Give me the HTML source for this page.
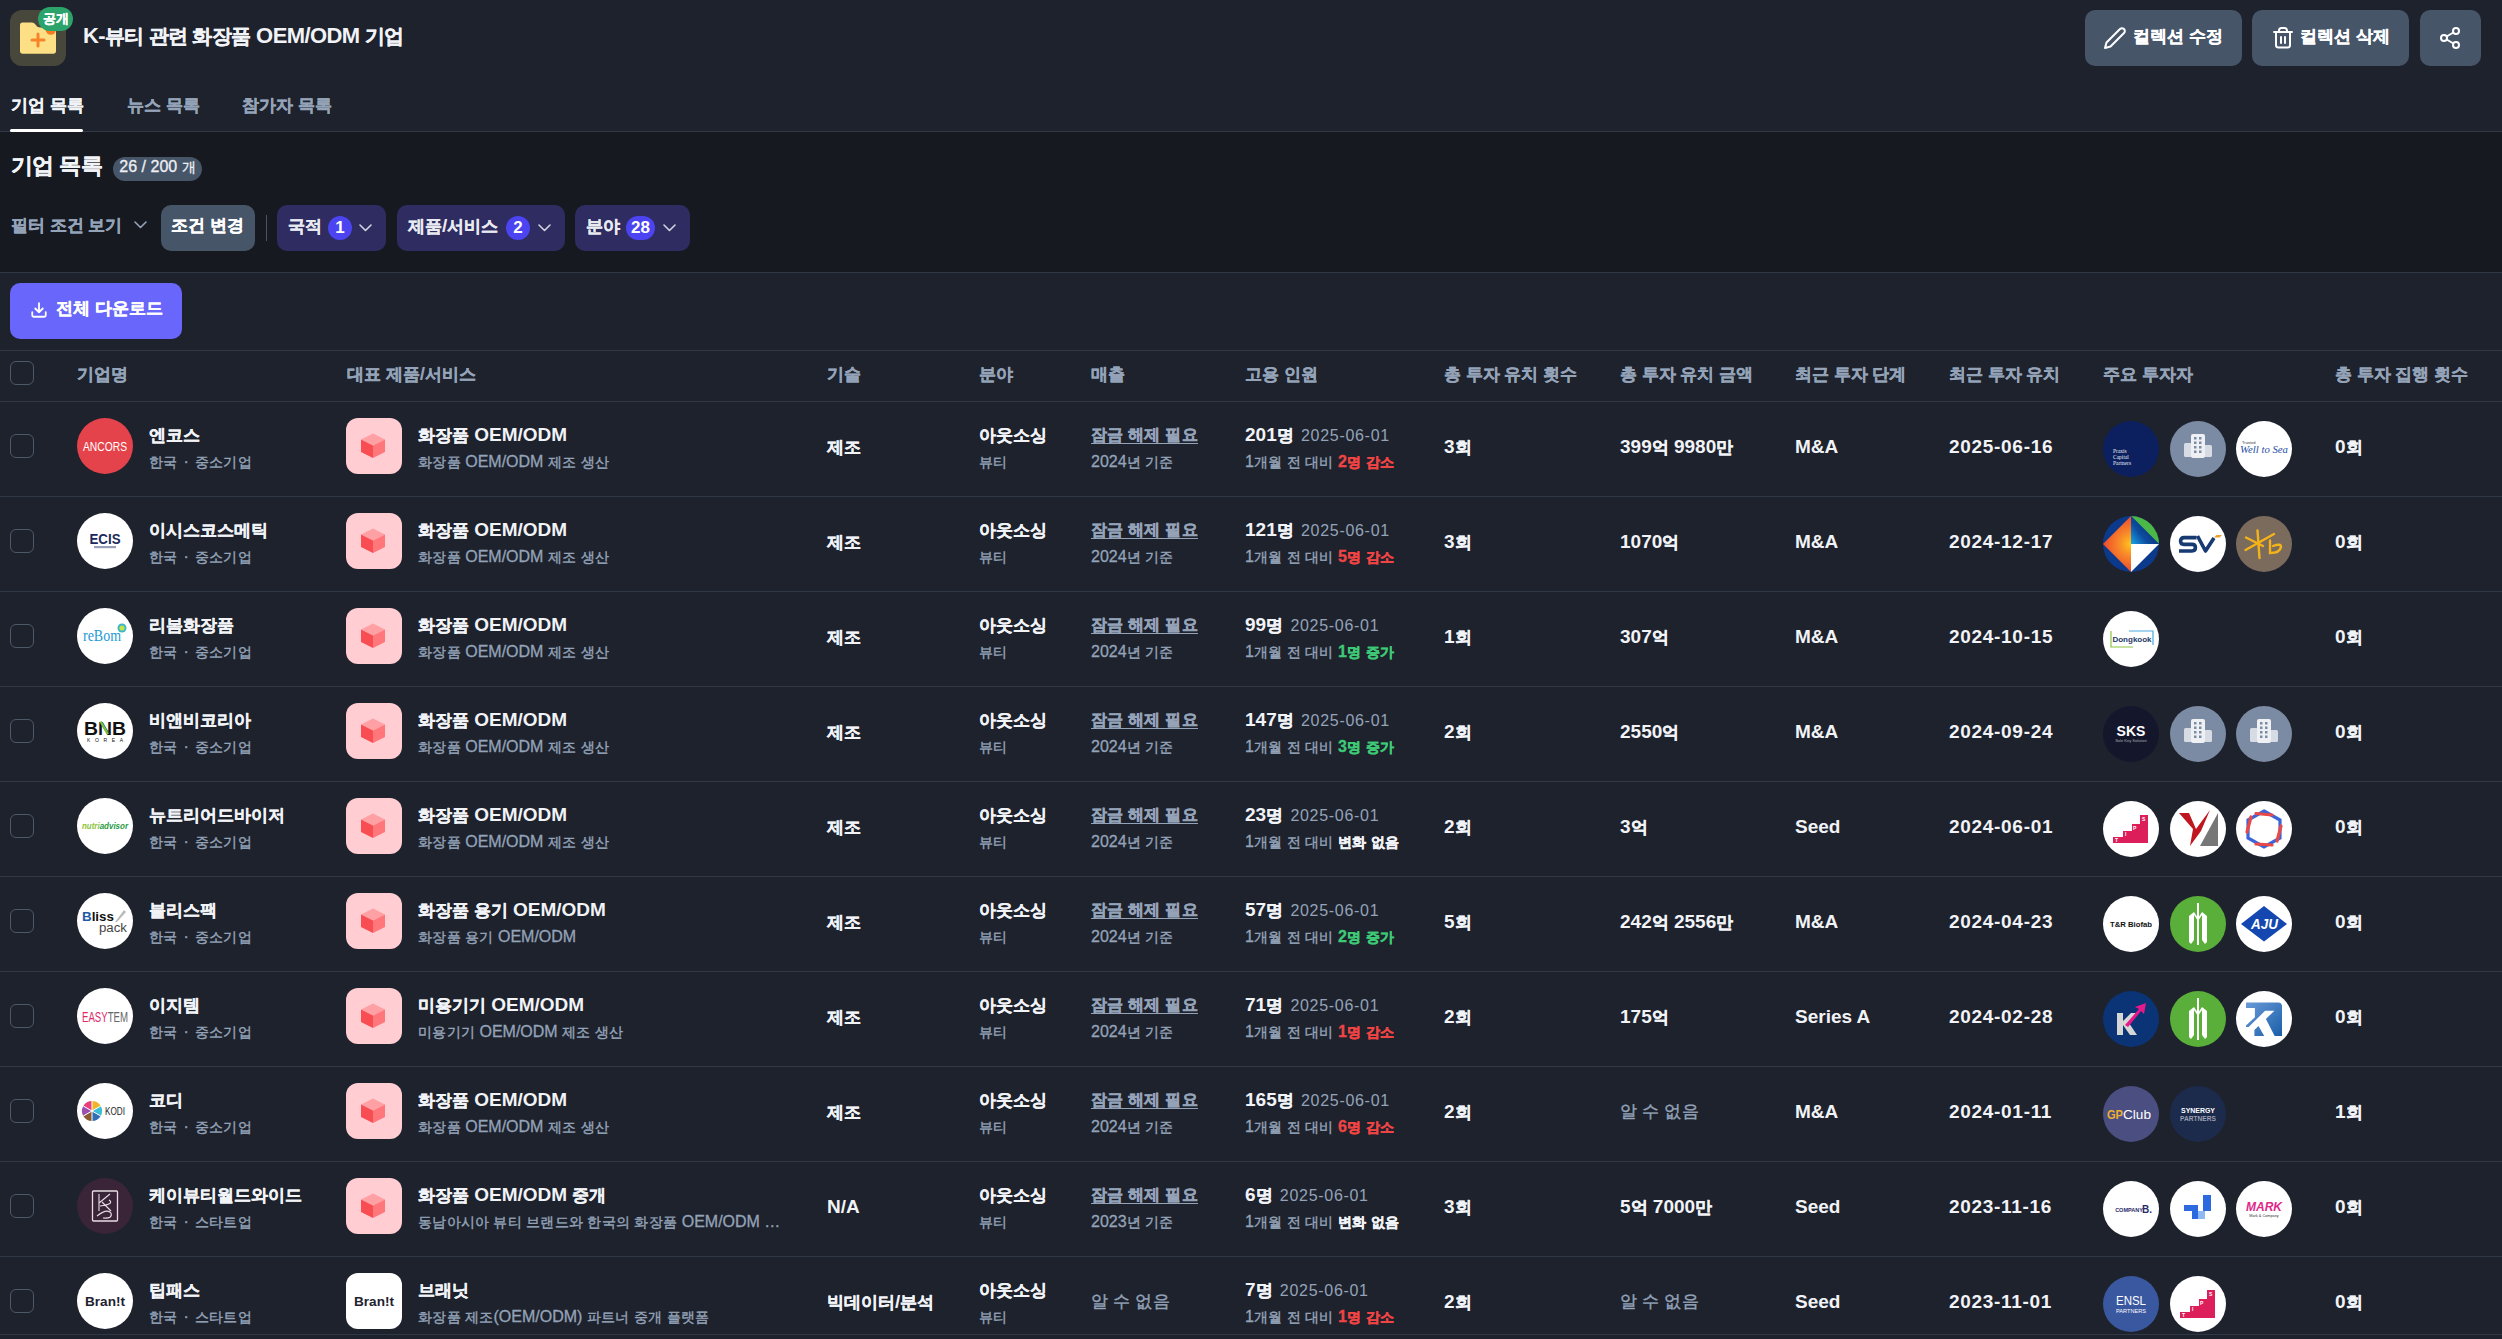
<!DOCTYPE html>
<html lang="ko"><head><meta charset="utf-8"><title>K-뷰티 관련 화장품 OEM/ODM 기업</title>
<style>
*{margin:0;padding:0;box-sizing:border-box}
html,body{width:2502px;height:1339px;overflow:hidden;background:#1e222d;font-family:"Liberation Sans",sans-serif;color:#f1f3f7}
.abs{position:absolute}
.k{font-size:0.9em}
.k{-webkit-text-stroke:0.3px currentColor}

.row{position:absolute;left:0;width:2502px;height:95px;border-bottom:1px solid #323946}
.row>div{position:absolute;white-space:nowrap}
.cb{width:24px;height:24px;border:1.6px solid #4d5869;border-radius:6px}
.logo{width:56px;height:56px}
.logo svg,.picon svg{display:block}
.t1{font-size:19px;font-weight:700;color:#f1f3f7;line-height:24px}
.t2{font-size:16px;color:#94a3b8;line-height:22px;-webkit-text-stroke:0.3px currentColor}
.t2 .k{font-size:0.9em;letter-spacing:0.25px;-webkit-text-stroke:0.4px currentColor}
.mid{top:33px}
.mid2{top:33px;font-size:19px}
.ul{text-decoration:underline;text-underline-offset:3px;font-weight:700;font-size:18px}
.date{font-size:16px;font-weight:400;color:#94a3b8;letter-spacing:0.7px;margin-left:2px}
.dot{margin:0 6px}
.hdr{position:absolute;top:362px;font-size:19px;font-weight:700;color:#94a3b8;line-height:24px;white-space:nowrap}
.btn{position:absolute;top:10px;height:56px;background:#475569;border-radius:10px}
.chip{position:absolute;top:205px;height:46px;border-radius:10px;background:#2e2c60}
.chip span.t{position:absolute;top:9px;font-size:19px;font-weight:700;color:#e8eaf0;line-height:24px;white-space:nowrap}
.badge{position:absolute;top:11px;height:24px;border-radius:12px;background:#4c44f0;color:#fff;font-size:17px;font-weight:700;line-height:24px;text-align:center}
</style></head><body>
<svg class="abs" style="left:10px;top:10px" width="56" height="56" viewBox="0 0 56 56"><rect width="56" height="56" rx="12" fill="#48473c"/>
<path d="M10 15 Q10 12.5 12.5 12.5 L22 12.5 Q24 12.5 25.5 14.5 L27 16.5 Q28.5 17.5 30.5 17.5 L43.5 17.5 Q46 17.5 46 20 L46 41 Q46 43.8 43.2 43.8 L12.8 43.8 Q10 43.8 10 41 Z" fill="#fddf86"/>
<circle cx="40.8" cy="19.5" r="5.2" fill="#f57c22"/>
<path d="M22 30 L34 30 M28 24 L28 36" stroke="#f7842a" stroke-width="3" stroke-linecap="round"/></svg>
<div class="abs" style="left:38px;top:7px;width:35px;height:24px;border-radius:12px;background:#2ba36a;color:#fff;font-size:14px;font-weight:700;line-height:22px;text-align:center"><span class="k">공개</span></div>
<div class="abs" style="left:83px;top:22px;font-size:22px;font-weight:700;color:#f1f3f7;line-height:28px;letter-spacing:-0.6px;white-space:nowrap">K-<span class="k">뷰티 관련 화장품</span> OEM/ODM <span class="k">기업</span></div>
<div class="btn" style="left:2085px;width:157px"></div>
<svg class="abs" style="left:2103px;top:26px" width="24" height="24" viewBox="0 0 24 24"><path d="M17 3a2.828 2.828 0 1 1 4 4L7.5 20.5 2 22l1.5-5.5L17 3z" fill="none" stroke="#fff" stroke-width="2" stroke-linejoin="round" stroke-linecap="round"/></svg>
<div class="abs" style="left:2133px;top:24px;font-size:19px;font-weight:700;color:#fff;line-height:24px;white-space:nowrap"><span class="k">컬렉션 수정</span></div>
<div class="btn" style="left:2252px;width:157px"></div>
<svg class="abs" style="left:2271px;top:26px" width="24" height="24" viewBox="0 0 24 24"><path d="M3 6h18 M19 6v13c0 1.5-1 2.5-2.5 2.5h-9C6 21.5 5 20.5 5 19V6 M8 6V4.5c0-1.5 1-2.5 2.5-2.5h3c1.5 0 2.5 1 2.5 2.5V6 M10 11v6 M14 11v6" fill="none" stroke="#fff" stroke-width="2" stroke-linecap="round" stroke-linejoin="round"/></svg>
<div class="abs" style="left:2300px;top:24px;font-size:19px;font-weight:700;color:#fff;line-height:24px;white-space:nowrap"><span class="k">컬렉션 삭제</span></div>
<div class="btn" style="left:2420px;width:61px"></div>
<svg class="abs" style="left:2438px;top:25.6px" width="24" height="24" viewBox="0 0 24 24"><circle cx="18" cy="5" r="3" fill="none" stroke="#fff" stroke-width="2"/><circle cx="6" cy="12" r="3" fill="none" stroke="#fff" stroke-width="2"/><circle cx="18" cy="19" r="3" fill="none" stroke="#fff" stroke-width="2"/><path d="M8.6 13.5l6.8 4 M15.4 6.5l-6.8 4" stroke="#fff" stroke-width="2"/></svg>
<div class="abs" style="left:11px;top:93px;font-size:19px;font-weight:700;color:#f1f3f7;line-height:24px;white-space:nowrap"><span class="k">기업 목록</span></div>
<div class="abs" style="left:127px;top:93px;font-size:19px;font-weight:700;color:#94a3b8;line-height:24px;white-space:nowrap"><span class="k">뉴스 목록</span></div>
<div class="abs" style="left:242px;top:93px;font-size:19px;font-weight:700;color:#94a3b8;line-height:24px;white-space:nowrap"><span class="k">참가자 목록</span></div>
<div class="abs" style="left:0;top:131px;width:2502px;height:142px;background:#161920;border-top:1px solid #323946;border-bottom:1px solid #323946"></div>
<div class="abs" style="left:10px;top:129px;width:73px;height:3px;background:#fff;border-radius:2px"></div>
<div class="abs" style="left:11px;top:149px;font-size:24px;font-weight:700;color:#f1f3f7;line-height:32px;letter-spacing:-0.6px;white-space:nowrap"><span class="k">기업 목록</span></div>
<div class="abs" style="left:113px;top:157px;width:89px;height:24px;border-radius:12px;background:#475569;color:#eef0f4;font-size:16px;font-weight:400;-webkit-text-stroke:0.3px currentColor;line-height:20px;text-align:center;white-space:nowrap">26 / 200 <span class="k">개</span></div>
<div class="abs" style="left:11px;top:213px;font-size:19px;font-weight:700;color:#94a3b8;line-height:24px;white-space:nowrap"><span class="k">필터 조건 보기</span></div>
<svg class="abs" style="left:134px;top:221px" width="13" height="8" viewBox="0 0 13 8"><path d="M1 1 L6.5 6.5 L12 1" fill="none" stroke="#94a3b8" stroke-width="1.6" stroke-linecap="round" stroke-linejoin="round"/></svg>
<div class="abs" style="left:161px;top:205px;width:94px;height:46px;border-radius:10px;background:#475569"></div>
<div class="abs" style="left:171px;top:213px;font-size:19px;font-weight:700;color:#fff;line-height:24px;white-space:nowrap"><span class="k">조건 변경</span></div>
<div class="abs" style="left:266px;top:215px;width:1px;height:26px;background:#4a5568"></div>
<div class="chip" style="left:277px;width:109px"><span class="t" style="left:11px"><span class="k">국적</span></span><span class="badge" style="left:51px;width:24px">1</span></div>
<svg class="abs" style="left:359px;top:224px" width="13" height="8" viewBox="0 0 13 8"><path d="M1 1 L6.5 6.5 L12 1" fill="none" stroke="#cfd3dc" stroke-width="1.6" stroke-linecap="round" stroke-linejoin="round"/></svg>
<div class="chip" style="left:397px;width:168px"><span class="t" style="left:11px"><span class="k">제품</span>/<span class="k">서비스</span></span><span class="badge" style="left:109px;width:24px">2</span></div>
<svg class="abs" style="left:538px;top:224px" width="13" height="8" viewBox="0 0 13 8"><path d="M1 1 L6.5 6.5 L12 1" fill="none" stroke="#cfd3dc" stroke-width="1.6" stroke-linecap="round" stroke-linejoin="round"/></svg>
<div class="chip" style="left:575px;width:115px"><span class="t" style="left:11px"><span class="k">분야</span></span><span class="badge" style="left:51px;width:29px">28</span></div>
<svg class="abs" style="left:663px;top:224px" width="13" height="8" viewBox="0 0 13 8"><path d="M1 1 L6.5 6.5 L12 1" fill="none" stroke="#cfd3dc" stroke-width="1.6" stroke-linecap="round" stroke-linejoin="round"/></svg>
<div class="abs" style="left:10px;top:283px;width:172px;height:56px;border-radius:10px;background:#6866fb"></div>
<svg class="abs" style="left:30px;top:301.3px" width="18" height="18" viewBox="0 0 24 24"><path d="M21 15v4a2 2 0 0 1-2 2H5a2 2 0 0 1-2-2v-4 M7 10l5 5 5-5 M12 15V3" fill="none" stroke="#fff" stroke-width="2.4" stroke-linecap="round" stroke-linejoin="round"/></svg>
<div class="abs" style="left:56px;top:296px;font-size:19px;font-weight:700;color:#fff;line-height:24px;white-space:nowrap"><span class="k">전체 다운로드</span></div>
<div class="abs" style="left:0;top:350px;width:2502px;height:1px;background:#323946"></div><div class="abs" style="left:0;top:401px;width:2502px;height:1px;background:#323946"></div><div class="cb abs" style="left:10px;top:361px"></div><div class="hdr" style="left:77px"><span class="k">기업명</span></div><div class="hdr" style="left:347px"><span class="k">대표 제품</span>/<span class="k">서비스</span></div><div class="hdr" style="left:827px"><span class="k">기술</span></div><div class="hdr" style="left:979px"><span class="k">분야</span></div><div class="hdr" style="left:1091px"><span class="k">매출</span></div><div class="hdr" style="left:1245px"><span class="k">고용 인원</span></div><div class="hdr" style="left:1444px"><span class="k">총 투자 유치 횟수</span></div><div class="hdr" style="left:1620px"><span class="k">총 투자 유치 금액</span></div><div class="hdr" style="left:1795px"><span class="k">최근 투자 단계</span></div><div class="hdr" style="left:1949px"><span class="k">최근 투자 유치</span></div><div class="hdr" style="left:2103px"><span class="k">주요 투자자</span></div><div class="hdr" style="left:2335px"><span class="k">총 투자 집행 횟수</span></div><div class="row" style="top:402px">
<div class="cb" style="left:10px;top:32px"></div>
<div class="logo" style="left:77px;top:16px"><svg width="56" height="56" viewBox="0 0 56 56"><circle cx="28" cy="28" r="28" fill="#e5434b"/><text x="28" y="33" font-family="Liberation Sans" font-size="13.5" fill="#fff" text-anchor="middle" textLength="44" lengthAdjust="spacingAndGlyphs">ANCORS</text></svg></div>
<div class="t1" style="left:149px;top:21px"><span class="k">엔코스</span></div>
<div class="t2" style="left:149px;top:49px"><span class="k">한국</span><span class=dot>·</span><span class="k">중소기업</span></div>
<div style="position:absolute;left:346px;top:16px"><div class="picon"><svg width="56" height="56" viewBox="0 0 56 56"><rect width="56" height="56" rx="12" fill="#ffcdd2"/>
<path d="M15 21.5 L27 15.5 L39 21.5 L27 27.5Z" fill="#ffa0a4"/><path d="M15 21.5 L27 27.5 L27 40 L15 34Z" fill="#f84d52"/><path d="M27 27.5 L39 21.5 L39 34 L27 40Z" fill="#ff777b"/></svg></div></div>
<div class="t1" style="left:418px;top:21px"><span class="k">화장품</span> OEM/ODM</div>
<div class="t2" style="left:418px;top:49px"><span class="k">화장품</span> OEM/ODM <span class="k">제조 생산</span></div>
<div class="t1 mid" style="left:827px"><span class="k">제조</span></div>
<div class="t1" style="left:979px;top:21px"><span class="k">아웃소싱</span></div>
<div class="t2" style="left:979px;top:49px"><span class="k">뷰티</span></div>
<div class="t2 ul" style="left:1091px;top:21px"><span class="k">잠금 해제 필요</span></div>
<div class="t2" style="left:1091px;top:49px">2024<span class="k">년 기준</span></div>
<div class="t1" style="left:1245px;top:21px">201<span class="k">명</span> <span class="date">2025-06-01</span></div>
<div class="t2" style="left:1245px;top:49px">1<span class="k">개월 전 대비</span> <span style="color:#ef4444;font-weight:700">2<span class="k">명 감소</span></span></div>
<div class="t1 mid" style="left:1444px">3<span class="k">회</span></div>
<div class="t1 mid" style="left:1620px">399<span class="k">억</span> 9980<span class="k">만</span></div>
<div class="t1 mid" style="left:1795px">M&A</div>
<div class="t1 mid" style="left:1949px;letter-spacing:0.7px">2025-06-16</div>
<div class="logo" style="left:2103.0px;top:19px"><svg width="56" height="56" viewBox="0 0 56 56"><circle cx="28" cy="28" r="28" fill="#0c1f5e"/><g font-family="Liberation Serif" font-size="5.5" fill="#e8ecf5"><text x="10" y="32">Praxis</text><text x="10" y="38">Capital</text><text x="10" y="44">Partners</text></g></svg></div>
<div class="logo" style="left:2169.5px;top:19px"><svg width="56" height="56" viewBox="0 0 56 56"><circle cx="28" cy="28" r="28" fill="#7c8ba4"/>
<rect x="14" y="22" width="8" height="14" rx="1.5" fill="#d6dbe4"/><rect x="34" y="24" width="8" height="12" rx="1.5" fill="#d6dbe4"/>
<rect x="21" y="13" width="14" height="24" rx="2" fill="#eef0f4"/>
<g fill="#7c8ba4"><rect x="24" y="16.0" width="2.5" height="2.5"/><rect x="29" y="16.0" width="2.5" height="2.5"/><rect x="24" y="20.5" width="2.5" height="2.5"/><rect x="29" y="20.5" width="2.5" height="2.5"/><rect x="24" y="25.0" width="2.5" height="2.5"/><rect x="29" y="25.0" width="2.5" height="2.5"/><rect x="24" y="29.5" width="2.5" height="2.5"/><rect x="29" y="29.5" width="2.5" height="2.5"/></g></svg></div>
<div class="logo" style="left:2236.0px;top:19px"><svg width="56" height="56" viewBox="0 0 56 56"><circle cx="28" cy="28" r="28" fill="#fff"/><text x="6" y="23" font-family="Liberation Sans" font-size="4" fill="#333">Trusted</text><text x="28" y="32" font-family="Liberation Serif" font-style="italic" font-size="10" fill="#1f4fa8" text-anchor="middle" textLength="48" lengthAdjust="spacingAndGlyphs">Well to Sea</text></svg></div>
<div class="t1 mid" style="left:2335px">0<span class="k">회</span></div>
</div><div class="row" style="top:497px">
<div class="cb" style="left:10px;top:32px"></div>
<div class="logo" style="left:77px;top:16px"><svg width="56" height="56" viewBox="0 0 56 56"><circle cx="28" cy="28" r="28" fill="#fff"/><text x="28" y="30.5" font-family="Liberation Sans" font-weight="700" font-size="14" fill="#1b2a5c" text-anchor="middle" textLength="31" lengthAdjust="spacingAndGlyphs">ECIS</text><rect x="17" y="33" width="22" height="2.2" fill="#9aa0b8"/></svg></div>
<div class="t1" style="left:149px;top:21px"><span class="k">이시스코스메틱</span></div>
<div class="t2" style="left:149px;top:49px"><span class="k">한국</span><span class=dot>·</span><span class="k">중소기업</span></div>
<div style="position:absolute;left:346px;top:16px"><div class="picon"><svg width="56" height="56" viewBox="0 0 56 56"><rect width="56" height="56" rx="12" fill="#ffcdd2"/>
<path d="M15 21.5 L27 15.5 L39 21.5 L27 27.5Z" fill="#ffa0a4"/><path d="M15 21.5 L27 27.5 L27 40 L15 34Z" fill="#f84d52"/><path d="M27 27.5 L39 21.5 L39 34 L27 40Z" fill="#ff777b"/></svg></div></div>
<div class="t1" style="left:418px;top:21px"><span class="k">화장품</span> OEM/ODM</div>
<div class="t2" style="left:418px;top:49px"><span class="k">화장품</span> OEM/ODM <span class="k">제조 생산</span></div>
<div class="t1 mid" style="left:827px"><span class="k">제조</span></div>
<div class="t1" style="left:979px;top:21px"><span class="k">아웃소싱</span></div>
<div class="t2" style="left:979px;top:49px"><span class="k">뷰티</span></div>
<div class="t2 ul" style="left:1091px;top:21px"><span class="k">잠금 해제 필요</span></div>
<div class="t2" style="left:1091px;top:49px">2024<span class="k">년 기준</span></div>
<div class="t1" style="left:1245px;top:21px">121<span class="k">명</span> <span class="date">2025-06-01</span></div>
<div class="t2" style="left:1245px;top:49px">1<span class="k">개월 전 대비</span> <span style="color:#ef4444;font-weight:700">5<span class="k">명 감소</span></span></div>
<div class="t1 mid" style="left:1444px">3<span class="k">회</span></div>
<div class="t1 mid" style="left:1620px">1070<span class="k">억</span></div>
<div class="t1 mid" style="left:1795px">M&A</div>
<div class="t1 mid" style="left:1949px;letter-spacing:0.7px">2024-12-17</div>
<div class="logo" style="left:2103.0px;top:19px"><svg width="56" height="56" viewBox="0 0 56 56"><defs><radialGradient id="dgr" cx="28" cy="28" r="28" gradientUnits="userSpaceOnUse"><stop offset="0" stop-color="#ffc61a"/><stop offset="0.45" stop-color="#f7862a"/><stop offset="1" stop-color="#ee4a2a"/></radialGradient><linearGradient id="dgb" x1="28" y1="28" x2="46" y2="14" gradientUnits="userSpaceOnUse"><stop offset="0" stop-color="#19a6e8"/><stop offset="0.6" stop-color="#0d4c9e"/><stop offset="1" stop-color="#0a3a88"/></linearGradient></defs><circle cx="28" cy="28" r="28" fill="#0b3a8c"/><path d="M28 0 A28 28 0 0 1 56 28Z" fill="#4cb848"/><path d="M0 28 L28 0 L28 56Z" fill="url(#dgr)"/><path d="M28 0 L56 28 L28 28Z" fill="url(#dgb)"/><path d="M28 28 L56 28 L28 56Z" fill="#fff"/></svg></div>
<div class="logo" style="left:2169.5px;top:19px"><svg width="56" height="56" viewBox="0 0 56 56"><circle cx="28" cy="28" r="28" fill="#fff"/><g fill="none" stroke="#173a72" stroke-width="3.6" stroke-linejoin="round"><path d="M26.5 21.6 H14 Q10.6 21.6 10.6 25 Q10.6 28.4 14 28.4 H22 Q25.4 28.4 25.4 31.6 Q25.4 35 22 35 H9"/><path d="M27.5 20 L35.5 35 L44 22"/></g><path d="M44 21.5 L46.5 19 L52 19 L49.5 21.5Z" fill="#e8a030"/></svg></div>
<div class="logo" style="left:2236.0px;top:19px"><svg width="56" height="56" viewBox="0 0 56 56"><circle cx="28" cy="28" r="28" fill="#7a6b5c"/><g stroke="#f5b31a" stroke-width="2.4" stroke-linecap="round" fill="none"><path d="M21.5 14.5 L23.5 42"/><path d="M9.5 34 L38 18"/><path d="M10 21.5 L27 30"/><path d="M34 24.5 V37 Q44 37 45 31 Q45 27 37 30"/></g></svg></div>
<div class="t1 mid" style="left:2335px">0<span class="k">회</span></div>
</div><div class="row" style="top:592px">
<div class="cb" style="left:10px;top:32px"></div>
<div class="logo" style="left:77px;top:16px"><svg width="56" height="56" viewBox="0 0 56 56"><circle cx="28" cy="28" r="28" fill="#fff"/><text x="25" y="33" font-family="Liberation Serif" font-size="16" fill="#1e9ad6" text-anchor="middle" textLength="38" lengthAdjust="spacingAndGlyphs">reBom</text><circle cx="45" cy="20" r="4.5" fill="#3bb8c8"/><circle cx="45" cy="20" r="2.6" fill="#c8e04a"/></svg></div>
<div class="t1" style="left:149px;top:21px"><span class="k">리봄화장품</span></div>
<div class="t2" style="left:149px;top:49px"><span class="k">한국</span><span class=dot>·</span><span class="k">중소기업</span></div>
<div style="position:absolute;left:346px;top:16px"><div class="picon"><svg width="56" height="56" viewBox="0 0 56 56"><rect width="56" height="56" rx="12" fill="#ffcdd2"/>
<path d="M15 21.5 L27 15.5 L39 21.5 L27 27.5Z" fill="#ffa0a4"/><path d="M15 21.5 L27 27.5 L27 40 L15 34Z" fill="#f84d52"/><path d="M27 27.5 L39 21.5 L39 34 L27 40Z" fill="#ff777b"/></svg></div></div>
<div class="t1" style="left:418px;top:21px"><span class="k">화장품</span> OEM/ODM</div>
<div class="t2" style="left:418px;top:49px"><span class="k">화장품</span> OEM/ODM <span class="k">제조 생산</span></div>
<div class="t1 mid" style="left:827px"><span class="k">제조</span></div>
<div class="t1" style="left:979px;top:21px"><span class="k">아웃소싱</span></div>
<div class="t2" style="left:979px;top:49px"><span class="k">뷰티</span></div>
<div class="t2 ul" style="left:1091px;top:21px"><span class="k">잠금 해제 필요</span></div>
<div class="t2" style="left:1091px;top:49px">2024<span class="k">년 기준</span></div>
<div class="t1" style="left:1245px;top:21px">99<span class="k">명</span> <span class="date">2025-06-01</span></div>
<div class="t2" style="left:1245px;top:49px">1<span class="k">개월 전 대비</span> <span style="color:#3ec976;font-weight:700">1<span class="k">명 증가</span></span></div>
<div class="t1 mid" style="left:1444px">1<span class="k">회</span></div>
<div class="t1 mid" style="left:1620px">307<span class="k">억</span></div>
<div class="t1 mid" style="left:1795px">M&A</div>
<div class="t1 mid" style="left:1949px;letter-spacing:0.7px">2024-10-15</div>
<div class="logo" style="left:2103.0px;top:19px"><svg width="56" height="56" viewBox="0 0 56 56"><circle cx="28" cy="28" r="28" fill="#fff"/><path d="M8 20 L8 36 L30 36" fill="none" stroke="#8cc63f" stroke-width="1.2"/><path d="M26 20 L50 20 L50 34" fill="none" stroke="#4aa8e0" stroke-width="1.2"/><text x="29" y="31" font-family="Liberation Sans" font-weight="700" font-size="8" fill="#1c3a6a" text-anchor="middle">Dongkook</text></svg></div>
<div class="t1 mid" style="left:2335px">0<span class="k">회</span></div>
</div><div class="row" style="top:687px">
<div class="cb" style="left:10px;top:32px"></div>
<div class="logo" style="left:77px;top:16px"><svg width="56" height="56" viewBox="0 0 56 56"><circle cx="28" cy="28" r="28" fill="#fff"/><text x="28" y="32" font-family="Liberation Sans" font-weight="700" font-size="18" fill="#111" text-anchor="middle" textLength="42" lengthAdjust="spacingAndGlyphs">BNB</text><line x1="23.5" y1="18.5" x2="31" y2="31" stroke="#7cc242" stroke-width="2.4"/><text x="28" y="39" font-family="Liberation Sans" font-size="5" fill="#111" text-anchor="middle" textLength="36" lengthAdjust="spacing">KOREA</text></svg></div>
<div class="t1" style="left:149px;top:21px"><span class="k">비앤비코리아</span></div>
<div class="t2" style="left:149px;top:49px"><span class="k">한국</span><span class=dot>·</span><span class="k">중소기업</span></div>
<div style="position:absolute;left:346px;top:16px"><div class="picon"><svg width="56" height="56" viewBox="0 0 56 56"><rect width="56" height="56" rx="12" fill="#ffcdd2"/>
<path d="M15 21.5 L27 15.5 L39 21.5 L27 27.5Z" fill="#ffa0a4"/><path d="M15 21.5 L27 27.5 L27 40 L15 34Z" fill="#f84d52"/><path d="M27 27.5 L39 21.5 L39 34 L27 40Z" fill="#ff777b"/></svg></div></div>
<div class="t1" style="left:418px;top:21px"><span class="k">화장품</span> OEM/ODM</div>
<div class="t2" style="left:418px;top:49px"><span class="k">화장품</span> OEM/ODM <span class="k">제조 생산</span></div>
<div class="t1 mid" style="left:827px"><span class="k">제조</span></div>
<div class="t1" style="left:979px;top:21px"><span class="k">아웃소싱</span></div>
<div class="t2" style="left:979px;top:49px"><span class="k">뷰티</span></div>
<div class="t2 ul" style="left:1091px;top:21px"><span class="k">잠금 해제 필요</span></div>
<div class="t2" style="left:1091px;top:49px">2024<span class="k">년 기준</span></div>
<div class="t1" style="left:1245px;top:21px">147<span class="k">명</span> <span class="date">2025-06-01</span></div>
<div class="t2" style="left:1245px;top:49px">1<span class="k">개월 전 대비</span> <span style="color:#3ec976;font-weight:700">3<span class="k">명 증가</span></span></div>
<div class="t1 mid" style="left:1444px">2<span class="k">회</span></div>
<div class="t1 mid" style="left:1620px">2550<span class="k">억</span></div>
<div class="t1 mid" style="left:1795px">M&A</div>
<div class="t1 mid" style="left:1949px;letter-spacing:0.7px">2024-09-24</div>
<div class="logo" style="left:2103.0px;top:19px"><svg width="56" height="56" viewBox="0 0 56 56"><circle cx="28" cy="28" r="28" fill="#14162c"/><text x="28" y="30" font-family="Liberation Sans" font-weight="700" font-size="14" fill="#fff" text-anchor="middle">SKS</text><text x="28" y="36" font-family="Liberation Sans" font-size="4" fill="#aaa" text-anchor="middle">Sole Key Solution</text></svg></div>
<div class="logo" style="left:2169.5px;top:19px"><svg width="56" height="56" viewBox="0 0 56 56"><circle cx="28" cy="28" r="28" fill="#7c8ba4"/>
<rect x="14" y="22" width="8" height="14" rx="1.5" fill="#d6dbe4"/><rect x="34" y="24" width="8" height="12" rx="1.5" fill="#d6dbe4"/>
<rect x="21" y="13" width="14" height="24" rx="2" fill="#eef0f4"/>
<g fill="#7c8ba4"><rect x="24" y="16.0" width="2.5" height="2.5"/><rect x="29" y="16.0" width="2.5" height="2.5"/><rect x="24" y="20.5" width="2.5" height="2.5"/><rect x="29" y="20.5" width="2.5" height="2.5"/><rect x="24" y="25.0" width="2.5" height="2.5"/><rect x="29" y="25.0" width="2.5" height="2.5"/><rect x="24" y="29.5" width="2.5" height="2.5"/><rect x="29" y="29.5" width="2.5" height="2.5"/></g></svg></div>
<div class="logo" style="left:2236.0px;top:19px"><svg width="56" height="56" viewBox="0 0 56 56"><circle cx="28" cy="28" r="28" fill="#7c8ba4"/>
<rect x="14" y="22" width="8" height="14" rx="1.5" fill="#d6dbe4"/><rect x="34" y="24" width="8" height="12" rx="1.5" fill="#d6dbe4"/>
<rect x="21" y="13" width="14" height="24" rx="2" fill="#eef0f4"/>
<g fill="#7c8ba4"><rect x="24" y="16.0" width="2.5" height="2.5"/><rect x="29" y="16.0" width="2.5" height="2.5"/><rect x="24" y="20.5" width="2.5" height="2.5"/><rect x="29" y="20.5" width="2.5" height="2.5"/><rect x="24" y="25.0" width="2.5" height="2.5"/><rect x="29" y="25.0" width="2.5" height="2.5"/><rect x="24" y="29.5" width="2.5" height="2.5"/><rect x="29" y="29.5" width="2.5" height="2.5"/></g></svg></div>
<div class="t1 mid" style="left:2335px">0<span class="k">회</span></div>
</div><div class="row" style="top:782px">
<div class="cb" style="left:10px;top:32px"></div>
<div class="logo" style="left:77px;top:16px"><svg width="56" height="56" viewBox="0 0 56 56"><circle cx="28" cy="28" r="28" fill="#fff"/><text x="28" y="31" font-family="Liberation Sans" font-style="italic" font-weight="700" font-size="9" text-anchor="middle" textLength="46" lengthAdjust="spacingAndGlyphs"><tspan fill="#8cc43c">nutri</tspan><tspan fill="#1f9a45">advisor</tspan></text></svg></div>
<div class="t1" style="left:149px;top:21px"><span class="k">뉴트리어드바이저</span></div>
<div class="t2" style="left:149px;top:49px"><span class="k">한국</span><span class=dot>·</span><span class="k">중소기업</span></div>
<div style="position:absolute;left:346px;top:16px"><div class="picon"><svg width="56" height="56" viewBox="0 0 56 56"><rect width="56" height="56" rx="12" fill="#ffcdd2"/>
<path d="M15 21.5 L27 15.5 L39 21.5 L27 27.5Z" fill="#ffa0a4"/><path d="M15 21.5 L27 27.5 L27 40 L15 34Z" fill="#f84d52"/><path d="M27 27.5 L39 21.5 L39 34 L27 40Z" fill="#ff777b"/></svg></div></div>
<div class="t1" style="left:418px;top:21px"><span class="k">화장품</span> OEM/ODM</div>
<div class="t2" style="left:418px;top:49px"><span class="k">화장품</span> OEM/ODM <span class="k">제조 생산</span></div>
<div class="t1 mid" style="left:827px"><span class="k">제조</span></div>
<div class="t1" style="left:979px;top:21px"><span class="k">아웃소싱</span></div>
<div class="t2" style="left:979px;top:49px"><span class="k">뷰티</span></div>
<div class="t2 ul" style="left:1091px;top:21px"><span class="k">잠금 해제 필요</span></div>
<div class="t2" style="left:1091px;top:49px">2024<span class="k">년 기준</span></div>
<div class="t1" style="left:1245px;top:21px">23<span class="k">명</span> <span class="date">2025-06-01</span></div>
<div class="t2" style="left:1245px;top:49px">1<span class="k">개월 전 대비</span> <span style="color:#f1f3f7;font-weight:700"><span class="k">변화 없음</span></span></div>
<div class="t1 mid" style="left:1444px">2<span class="k">회</span></div>
<div class="t1 mid" style="left:1620px">3<span class="k">억</span></div>
<div class="t1 mid" style="left:1795px">Seed</div>
<div class="t1 mid" style="left:1949px;letter-spacing:0.7px">2024-06-01</div>
<div class="logo" style="left:2103.0px;top:19px"><svg width="56" height="56" viewBox="0 0 56 56"><circle cx="28" cy="28" r="28" fill="#fff"/><path d="M10 42 L10 36 L20 36 L20 30 L29 30 L29 23 L37 23 L37 14 L45 14 L45 42Z" fill="#dc1e5a"/><g font-family="Liberation Sans" font-weight="700" font-size="5" fill="#fff"><text x="12" y="41">T</text><text x="22" y="35">I</text><text x="30" y="29">P</text><text x="39" y="20">S</text></g></svg></div>
<div class="logo" style="left:2169.5px;top:19px"><svg width="56" height="56" viewBox="0 0 56 56"><circle cx="28" cy="28" r="28" fill="#fff"/><path d="M9 12 L19 12 L26 28 L40 9 L31 30 L20 45 L23 28Z" fill="#c01620"/><path d="M48 12 L48 45 L30 45Z" fill="#777"/></svg></div>
<div class="logo" style="left:2236.0px;top:19px"><svg width="56" height="56" viewBox="0 0 56 56"><circle cx="28" cy="28" r="28" fill="#fff"/><g fill="none" stroke-width="3.2" stroke-linecap="round"><path d="M28 10 L44 19 L44 37 L28 46 L12 37 L12 19Z" stroke="#3a64d8"/><path d="M20 12.5 L36 14 M45 25 L41 40 M36 44 L20 43 M11 31 L15 16" stroke="#e84848"/></g></svg></div>
<div class="t1 mid" style="left:2335px">0<span class="k">회</span></div>
</div><div class="row" style="top:877px">
<div class="cb" style="left:10px;top:32px"></div>
<div class="logo" style="left:77px;top:16px"><svg width="56" height="56" viewBox="0 0 56 56"><circle cx="28" cy="28" r="28" fill="#fff"/><text x="5" y="28" font-family="Liberation Sans" font-weight="700" font-size="13" fill="#111" textLength="32" lengthAdjust="spacingAndGlyphs"><tspan fill="#1f5aa6">B</tspan>liss</text><text x="22" y="39" font-family="Liberation Sans" font-size="12" fill="#444" textLength="28" lengthAdjust="spacingAndGlyphs">pack</text><path d="M38 29 L47 17 L49 19 L40 29Z" fill="#bbb"/></svg></div>
<div class="t1" style="left:149px;top:21px"><span class="k">블리스팩</span></div>
<div class="t2" style="left:149px;top:49px"><span class="k">한국</span><span class=dot>·</span><span class="k">중소기업</span></div>
<div style="position:absolute;left:346px;top:16px"><div class="picon"><svg width="56" height="56" viewBox="0 0 56 56"><rect width="56" height="56" rx="12" fill="#ffcdd2"/>
<path d="M15 21.5 L27 15.5 L39 21.5 L27 27.5Z" fill="#ffa0a4"/><path d="M15 21.5 L27 27.5 L27 40 L15 34Z" fill="#f84d52"/><path d="M27 27.5 L39 21.5 L39 34 L27 40Z" fill="#ff777b"/></svg></div></div>
<div class="t1" style="left:418px;top:21px"><span class="k">화장품 용기</span> OEM/ODM</div>
<div class="t2" style="left:418px;top:49px"><span class="k">화장품 용기</span> OEM/ODM</div>
<div class="t1 mid" style="left:827px"><span class="k">제조</span></div>
<div class="t1" style="left:979px;top:21px"><span class="k">아웃소싱</span></div>
<div class="t2" style="left:979px;top:49px"><span class="k">뷰티</span></div>
<div class="t2 ul" style="left:1091px;top:21px"><span class="k">잠금 해제 필요</span></div>
<div class="t2" style="left:1091px;top:49px">2024<span class="k">년 기준</span></div>
<div class="t1" style="left:1245px;top:21px">57<span class="k">명</span> <span class="date">2025-06-01</span></div>
<div class="t2" style="left:1245px;top:49px">1<span class="k">개월 전 대비</span> <span style="color:#3ec976;font-weight:700">2<span class="k">명 증가</span></span></div>
<div class="t1 mid" style="left:1444px">5<span class="k">회</span></div>
<div class="t1 mid" style="left:1620px">242<span class="k">억</span> 2556<span class="k">만</span></div>
<div class="t1 mid" style="left:1795px">M&A</div>
<div class="t1 mid" style="left:1949px;letter-spacing:0.7px">2024-04-23</div>
<div class="logo" style="left:2103.0px;top:19px"><svg width="56" height="56" viewBox="0 0 56 56"><circle cx="28" cy="28" r="28" fill="#fff"/><text x="28" y="31" font-family="Liberation Sans" font-weight="700" font-size="8" fill="#111" text-anchor="middle" textLength="42" lengthAdjust="spacingAndGlyphs">T&amp;R Biofab</text></svg></div>
<div class="logo" style="left:2169.5px;top:19px"><svg width="56" height="56" viewBox="0 0 56 56"><circle cx="28" cy="28" r="28" fill="#5aae3a"/><g fill="#fff"><rect x="27" y="7" width="2" height="42"/><path d="M19 20 L24 16 L24 44 L21 48 L19 46Z"/><path d="M37 20 L32 16 L32 44 L35 48 L37 46Z"/><path d="M24 16 L28 22 L32 16 L32 19 L28 25 L24 19Z"/></g></svg></div>
<div class="logo" style="left:2236.0px;top:19px"><svg width="56" height="56" viewBox="0 0 56 56"><circle cx="28" cy="28" r="28" fill="#fff"/><path d="M28 10 L51 28 L28 45.5 L5 28Z" fill="#1448b0"/><text x="28.5" y="33" font-family="Liberation Sans" font-weight="700" font-style="italic" font-size="14" fill="#fff" text-anchor="middle" textLength="27" lengthAdjust="spacingAndGlyphs">AJU</text></svg></div>
<div class="t1 mid" style="left:2335px">0<span class="k">회</span></div>
</div><div class="row" style="top:972px">
<div class="cb" style="left:10px;top:32px"></div>
<div class="logo" style="left:77px;top:16px"><svg width="56" height="56" viewBox="0 0 56 56"><circle cx="28" cy="28" r="28" fill="#fff"/><text x="5" y="34" font-family="Liberation Sans" font-size="15" textLength="46" lengthAdjust="spacingAndGlyphs"><tspan fill="#e0286a">EASY</tspan><tspan fill="#666">TEM</tspan></text></svg></div>
<div class="t1" style="left:149px;top:21px"><span class="k">이지템</span></div>
<div class="t2" style="left:149px;top:49px"><span class="k">한국</span><span class=dot>·</span><span class="k">중소기업</span></div>
<div style="position:absolute;left:346px;top:16px"><div class="picon"><svg width="56" height="56" viewBox="0 0 56 56"><rect width="56" height="56" rx="12" fill="#ffcdd2"/>
<path d="M15 21.5 L27 15.5 L39 21.5 L27 27.5Z" fill="#ffa0a4"/><path d="M15 21.5 L27 27.5 L27 40 L15 34Z" fill="#f84d52"/><path d="M27 27.5 L39 21.5 L39 34 L27 40Z" fill="#ff777b"/></svg></div></div>
<div class="t1" style="left:418px;top:21px"><span class="k">미용기기</span> OEM/ODM</div>
<div class="t2" style="left:418px;top:49px"><span class="k">미용기기</span> OEM/ODM <span class="k">제조 생산</span></div>
<div class="t1 mid" style="left:827px"><span class="k">제조</span></div>
<div class="t1" style="left:979px;top:21px"><span class="k">아웃소싱</span></div>
<div class="t2" style="left:979px;top:49px"><span class="k">뷰티</span></div>
<div class="t2 ul" style="left:1091px;top:21px"><span class="k">잠금 해제 필요</span></div>
<div class="t2" style="left:1091px;top:49px">2024<span class="k">년 기준</span></div>
<div class="t1" style="left:1245px;top:21px">71<span class="k">명</span> <span class="date">2025-06-01</span></div>
<div class="t2" style="left:1245px;top:49px">1<span class="k">개월 전 대비</span> <span style="color:#ef4444;font-weight:700">1<span class="k">명 감소</span></span></div>
<div class="t1 mid" style="left:1444px">2<span class="k">회</span></div>
<div class="t1 mid" style="left:1620px">175<span class="k">억</span></div>
<div class="t1 mid" style="left:1795px">Series A</div>
<div class="t1 mid" style="left:1949px;letter-spacing:0.7px">2024-02-28</div>
<div class="logo" style="left:2103.0px;top:19px"><svg width="56" height="56" viewBox="0 0 56 56"><circle cx="28" cy="28" r="28" fill="#0b3476"/><path d="M14 22 L20 22 L20 30 L28 22 L34 22 L26 32 L34 44 L27 44 L20 34 L20 44 L14 44Z" fill="#d6d6d6"/><path d="M22 34 L36 18 L32 16 L43 12 L41 23 L38 20 L25 36Z" fill="#e6188a"/></svg></div>
<div class="logo" style="left:2169.5px;top:19px"><svg width="56" height="56" viewBox="0 0 56 56"><circle cx="28" cy="28" r="28" fill="#5aae3a"/><g fill="#fff"><rect x="27" y="7" width="2" height="42"/><path d="M19 20 L24 16 L24 44 L21 48 L19 46Z"/><path d="M37 20 L32 16 L32 44 L35 48 L37 46Z"/><path d="M24 16 L28 22 L32 16 L32 19 L28 25 L24 19Z"/></g></svg></div>
<div class="logo" style="left:2236.0px;top:19px"><svg width="56" height="56" viewBox="0 0 56 56"><defs><linearGradient id="kbg" x1="0" y1="0" x2="1" y2="1"><stop offset="0" stop-color="#6a9ad8"/><stop offset="1" stop-color="#1a5fa8"/></linearGradient></defs><circle cx="28" cy="28" r="28" fill="#fff"/><path d="M10 11.4 H42 Q46 11.4 46 15.4 V45 H10Z" fill="url(#kbg)"/><path d="M10 17 H18.9 V26.3 L10 34.6Z M10 38.6 L29.1 19.8 L38.4 19.8 L10 47Z M22.5 35 L29.9 27.9 L38.9 45.5 L28.5 45.5Z M10 36 H18.4 V45.5 H10Z" fill="#fff"/></svg></div>
<div class="t1 mid" style="left:2335px">0<span class="k">회</span></div>
</div><div class="row" style="top:1067px">
<div class="cb" style="left:10px;top:32px"></div>
<div class="logo" style="left:77px;top:16px"><svg width="56" height="56" viewBox="0 0 56 56"><circle cx="28" cy="28" r="28" fill="#fff"/><g transform="translate(15,28)"><path d="M0 0 L0 -10 A10 10 0 0 1 8.7 -5Z" fill="#f0b429"/><path d="M0 0 L8.7 -5 A10 10 0 0 1 8.7 5Z" fill="#3bbfd8"/><path d="M0 0 L8.7 5 A10 10 0 0 1 0 10Z" fill="#2f6fb8"/><path d="M0 0 L0 10 A10 10 0 0 1 -8.7 5Z" fill="#8a5a30"/><path d="M0 0 L-8.7 5 A10 10 0 0 1 -8.7 -5Z" fill="#9b4fb0"/><path d="M0 0 L-8.7 -5 A10 10 0 0 1 0 -10Z" fill="#e8407a"/><path d="M0 -10 L0 10 M-8.7 -5 L8.7 5 M-8.7 5 L8.7 -5" stroke="#fff" stroke-width="1"/></g><text x="38" y="32" font-family="Liberation Sans" font-size="10" fill="#222" text-anchor="middle" textLength="20" lengthAdjust="spacingAndGlyphs">KODI</text></svg></div>
<div class="t1" style="left:149px;top:21px"><span class="k">코디</span></div>
<div class="t2" style="left:149px;top:49px"><span class="k">한국</span><span class=dot>·</span><span class="k">중소기업</span></div>
<div style="position:absolute;left:346px;top:16px"><div class="picon"><svg width="56" height="56" viewBox="0 0 56 56"><rect width="56" height="56" rx="12" fill="#ffcdd2"/>
<path d="M15 21.5 L27 15.5 L39 21.5 L27 27.5Z" fill="#ffa0a4"/><path d="M15 21.5 L27 27.5 L27 40 L15 34Z" fill="#f84d52"/><path d="M27 27.5 L39 21.5 L39 34 L27 40Z" fill="#ff777b"/></svg></div></div>
<div class="t1" style="left:418px;top:21px"><span class="k">화장품</span> OEM/ODM</div>
<div class="t2" style="left:418px;top:49px"><span class="k">화장품</span> OEM/ODM <span class="k">제조 생산</span></div>
<div class="t1 mid" style="left:827px"><span class="k">제조</span></div>
<div class="t1" style="left:979px;top:21px"><span class="k">아웃소싱</span></div>
<div class="t2" style="left:979px;top:49px"><span class="k">뷰티</span></div>
<div class="t2 ul" style="left:1091px;top:21px"><span class="k">잠금 해제 필요</span></div>
<div class="t2" style="left:1091px;top:49px">2024<span class="k">년 기준</span></div>
<div class="t1" style="left:1245px;top:21px">165<span class="k">명</span> <span class="date">2025-06-01</span></div>
<div class="t2" style="left:1245px;top:49px">1<span class="k">개월 전 대비</span> <span style="color:#ef4444;font-weight:700">6<span class="k">명 감소</span></span></div>
<div class="t1 mid" style="left:1444px">2<span class="k">회</span></div>
<div class="t2 mid2" style="left:1620px"><span class="k">알 수 없음</span></div>
<div class="t1 mid" style="left:1795px">M&A</div>
<div class="t1 mid" style="left:1949px;letter-spacing:0.7px">2024-01-11</div>
<div class="logo" style="left:2103.0px;top:19px"><svg width="56" height="56" viewBox="0 0 56 56"><circle cx="28" cy="28" r="28" fill="#4a4e80"/><text x="4" y="33" font-family="Liberation Sans" font-weight="700" font-size="13" fill="#f0b030" textLength="16" lengthAdjust="spacingAndGlyphs">GP</text><text x="20" y="33" font-family="Liberation Sans" font-size="13" fill="#fff" textLength="28" lengthAdjust="spacingAndGlyphs">Club</text></svg></div>
<div class="logo" style="left:2169.5px;top:19px"><svg width="56" height="56" viewBox="0 0 56 56"><circle cx="28" cy="28" r="28" fill="#1c2a4c"/><text x="28" y="27" font-family="Liberation Sans" font-weight="700" font-size="7" fill="#fff" text-anchor="middle" textLength="34" lengthAdjust="spacingAndGlyphs">SYNERGY</text><text x="28" y="34.5" font-family="Liberation Sans" font-weight="700" font-size="7" fill="#9aa0b0" text-anchor="middle" textLength="36" lengthAdjust="spacingAndGlyphs">PARTNERS</text></svg></div>
<div class="t1 mid" style="left:2335px">1<span class="k">회</span></div>
</div><div class="row" style="top:1162px">
<div class="cb" style="left:10px;top:32px"></div>
<div class="logo" style="left:77px;top:16px"><svg width="56" height="56" viewBox="0 0 56 56"><circle cx="28" cy="28" r="28" fill="#3a2538"/><rect x="15.5" y="13" width="25" height="30" rx="1" fill="none" stroke="#e8dde4" stroke-width="1.3"/><path d="M22 16 L22 33 M22 25 L33 16 M25 24 L34 33 M20 38 Q30 30 34 35 Q36 41 26 40 M23 28 Q38 26 32 22" fill="none" stroke="#e8dde4" stroke-width="1.1"/></svg></div>
<div class="t1" style="left:149px;top:21px"><span class="k">케이뷰티월드와이드</span></div>
<div class="t2" style="left:149px;top:49px"><span class="k">한국</span><span class=dot>·</span><span class="k">스타트업</span></div>
<div style="position:absolute;left:346px;top:16px"><div class="picon"><svg width="56" height="56" viewBox="0 0 56 56"><rect width="56" height="56" rx="12" fill="#ffcdd2"/>
<path d="M15 21.5 L27 15.5 L39 21.5 L27 27.5Z" fill="#ffa0a4"/><path d="M15 21.5 L27 27.5 L27 40 L15 34Z" fill="#f84d52"/><path d="M27 27.5 L39 21.5 L39 34 L27 40Z" fill="#ff777b"/></svg></div></div>
<div class="t1" style="left:418px;top:21px"><span class="k">화장품</span> OEM/ODM <span class="k">중개</span></div>
<div class="t2" style="left:418px;top:49px"><span class="k">동남아시아 뷰티 브랜드와 한국의 화장품</span> OEM/ODM …</div>
<div class="t1 mid" style="left:827px">N/A</div>
<div class="t1" style="left:979px;top:21px"><span class="k">아웃소싱</span></div>
<div class="t2" style="left:979px;top:49px"><span class="k">뷰티</span></div>
<div class="t2 ul" style="left:1091px;top:21px"><span class="k">잠금 해제 필요</span></div>
<div class="t2" style="left:1091px;top:49px">2023<span class="k">년 기준</span></div>
<div class="t1" style="left:1245px;top:21px">6<span class="k">명</span> <span class="date">2025-06-01</span></div>
<div class="t2" style="left:1245px;top:49px">1<span class="k">개월 전 대비</span> <span style="color:#f1f3f7;font-weight:700"><span class="k">변화 없음</span></span></div>
<div class="t1 mid" style="left:1444px">3<span class="k">회</span></div>
<div class="t1 mid" style="left:1620px">5<span class="k">억</span> 7000<span class="k">만</span></div>
<div class="t1 mid" style="left:1795px">Seed</div>
<div class="t1 mid" style="left:1949px;letter-spacing:0.7px">2023-11-16</div>
<div class="logo" style="left:2103.0px;top:19px"><svg width="56" height="56" viewBox="0 0 56 56"><circle cx="28" cy="28" r="28" fill="#fff"/><text x="26" y="31" font-family="Liberation Sans" font-weight="700" font-size="5.5" fill="#2a2a6a" text-anchor="middle">COMPANY</text><text x="44" y="32" font-family="Liberation Sans" font-weight="700" font-size="10" fill="#2a2a6a" text-anchor="middle">B.</text></svg></div>
<div class="logo" style="left:2169.5px;top:19px"><svg width="56" height="56" viewBox="0 0 56 56"><circle cx="28" cy="28" r="28" fill="#fff"/><rect x="33" y="14" width="8" height="16" fill="#2d6ae0"/><rect x="14" y="24" width="10" height="6" fill="#2d6ae0"/><rect x="22" y="24" width="6" height="14" fill="#2d6ae0"/><rect x="28" y="30" width="7" height="8" fill="#8fb8f5"/></svg></div>
<div class="logo" style="left:2236.0px;top:19px"><svg width="56" height="56" viewBox="0 0 56 56"><circle cx="28" cy="28" r="28" fill="#fff"/><text x="28" y="30" font-family="Liberation Sans" font-weight="700" font-style="italic" font-size="13" fill="#e0288a" text-anchor="middle" textLength="36" lengthAdjust="spacingAndGlyphs">MARK</text><text x="28" y="36" font-family="Liberation Sans" font-size="3.8" fill="#333" text-anchor="middle">Mark &amp; Company</text></svg></div>
<div class="t1 mid" style="left:2335px">0<span class="k">회</span></div>
</div><div class="row" style="top:1257px">
<div class="cb" style="left:10px;top:32px"></div>
<div class="logo" style="left:77px;top:16px"><svg width="56" height="56" viewBox="0 0 56 56"><circle cx="28" cy="28" r="28" fill="#fff"/><text x="28" y="33" font-family="Liberation Sans" font-weight="700" font-size="13" fill="#1e2230" text-anchor="middle" textLength="40" lengthAdjust="spacingAndGlyphs">Bran!t</text></svg></div>
<div class="t1" style="left:149px;top:21px"><span class="k">팁패스</span></div>
<div class="t2" style="left:149px;top:49px"><span class="k">한국</span><span class=dot>·</span><span class="k">스타트업</span></div>
<div style="position:absolute;left:346px;top:16px"><div class="picon"><svg width="56" height="56" viewBox="0 0 56 56"><rect width="56" height="56" rx="12" fill="#fff"/><text x="28" y="33" font-family="Liberation Sans" font-weight="700" font-size="13" fill="#1e2230" text-anchor="middle" textLength="40" lengthAdjust="spacingAndGlyphs">Bran!t</text></svg></div></div>
<div class="t1" style="left:418px;top:21px"><span class="k">브래닛</span></div>
<div class="t2" style="left:418px;top:49px"><span class="k">화장품 제조</span>(OEM/ODM) <span class="k">파트너 중개 플랫폼</span></div>
<div class="t1 mid" style="left:827px"><span class="k">빅데이터</span>/<span class="k">분석</span></div>
<div class="t1" style="left:979px;top:21px"><span class="k">아웃소싱</span></div>
<div class="t2" style="left:979px;top:49px"><span class="k">뷰티</span></div>
<div class="t2 mid2" style="left:1091px"><span class="k">알 수 없음</span></div>
<div class="t1" style="left:1245px;top:21px">7<span class="k">명</span> <span class="date">2025-06-01</span></div>
<div class="t2" style="left:1245px;top:49px">1<span class="k">개월 전 대비</span> <span style="color:#ef4444;font-weight:700">1<span class="k">명 감소</span></span></div>
<div class="t1 mid" style="left:1444px">2<span class="k">회</span></div>
<div class="t2 mid2" style="left:1620px"><span class="k">알 수 없음</span></div>
<div class="t1 mid" style="left:1795px">Seed</div>
<div class="t1 mid" style="left:1949px;letter-spacing:0.7px">2023-11-01</div>
<div class="logo" style="left:2103.0px;top:19px"><svg width="56" height="56" viewBox="0 0 56 56"><circle cx="28" cy="28" r="28" fill="#3a58a0"/><text x="28" y="29" font-family="Liberation Sans" font-size="13" fill="#fff" text-anchor="middle" textLength="30" lengthAdjust="spacingAndGlyphs">ENSL</text><text x="28" y="37" font-family="Liberation Sans" font-size="6" fill="#fff" text-anchor="middle" textLength="30" lengthAdjust="spacingAndGlyphs">PARTNERS</text></svg></div>
<div class="logo" style="left:2169.5px;top:19px"><svg width="56" height="56" viewBox="0 0 56 56"><circle cx="28" cy="28" r="28" fill="#fff"/><path d="M10 42 L10 36 L20 36 L20 30 L29 30 L29 23 L37 23 L37 14 L45 14 L45 42Z" fill="#dc1e5a"/><g font-family="Liberation Sans" font-weight="700" font-size="5" fill="#fff"><text x="12" y="41">T</text><text x="22" y="35">I</text><text x="30" y="29">P</text><text x="39" y="20">S</text></g></svg></div>
<div class="t1 mid" style="left:2335px">0<span class="k">회</span></div>
</div><div class="abs" style="left:0;top:1334px;width:2502px;height:5px;background:#1e222d;border-top:1px solid #323946"></div>
</body></html>
